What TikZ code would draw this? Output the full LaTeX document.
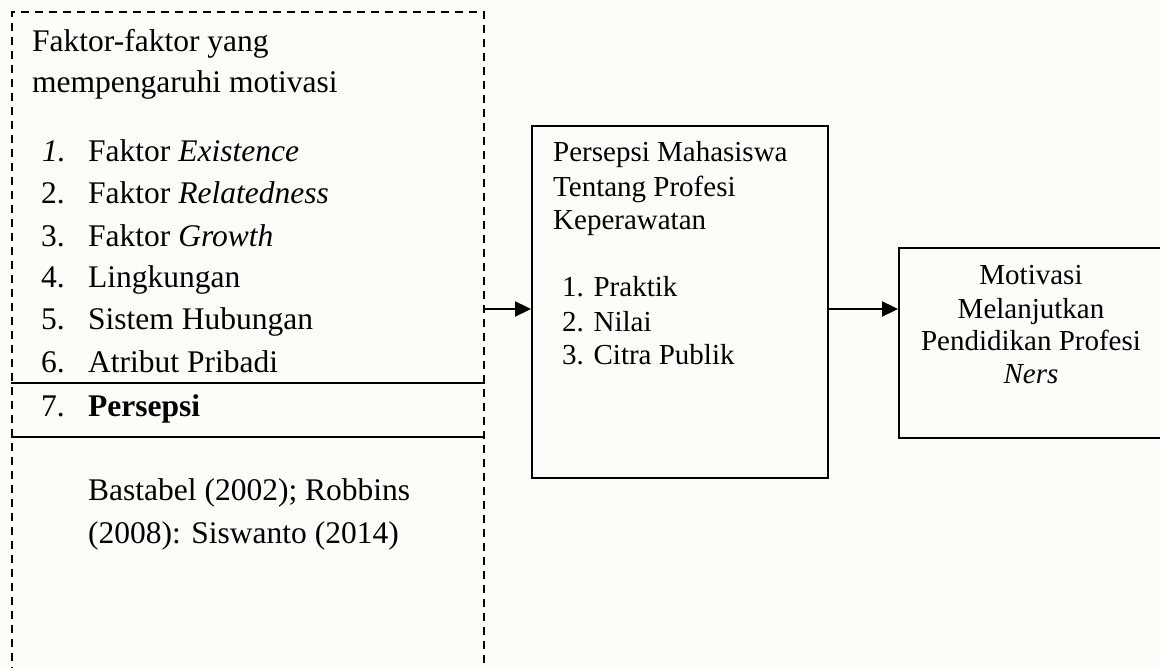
\documentclass[tikz,border=0pt]{standalone}
\usepackage{fontspec}
\setmainfont{Liberation Serif}
\usetikzlibrary{arrows.meta}
\definecolor{bgc}{RGB}{252,253,248}
\begin{document}
\begin{tikzpicture}[x=1pt,y=-1pt,
  dashbox/.style={draw, dash pattern=on 8pt off 6pt, line width=2pt, inner sep=0pt, anchor=north west},
  solidbox/.style={draw, line width=2.3pt, inner sep=0pt, anchor=north west},
  divider/.style={line width=2.3pt},
  lt/.style={inner sep=0pt, anchor=base west, font=\fontsize{31.5}{38}\selectfont},
  mt/.style={inner sep=0pt, anchor=base west, font=\fontsize{29}{34}\selectfont},
  rt/.style={inner sep=0pt, anchor=base, font=\fontsize{29}{34}\selectfont},
  arr/.style={line width=2.3pt, -{Triangle[length=16pt,width=15pt]}}]
\useasboundingbox (0,0) rectangle (1160,668);
\fill[bgc] (0,0) rectangle (1160,668);
\clip (0,0) rectangle (1160,668);

% boxes
\node[dashbox, minimum width=472pt, minimum height=669pt] (fac) at (11,11) {};
\node[solidbox, minimum width=296pt, minimum height=352pt] (mid) at (531,125) {};
\node[solidbox, minimum width=280pt, minimum height=190pt] (mot) at (898,247) {};

% dividers in the left box
\path (0,383) coordinate (d1) (0,437) coordinate (d2);
\draw[divider] (d1 -| fac.west) -- (d1 -| fac.east);
\draw[divider] (d2 -| fac.west) -- (d2 -| fac.east);

% left texts
\node[lt] (t1) at (32,52) {Faktor-faktor yang};
\node[lt] (t2) at (32,93) {mempengaruhi motivasi};
\node[lt] (n1) at (42,162) {\itshape 1.};
\node[lt] (i1) at (88,162) {Faktor \textit{Existence}};
\node[lt] (n2) at (41,204) {2.};
\node[lt] (i2) at (88,204) {Faktor \textit{Relatedness}};
\node[lt] (n3) at (41,247) {3.};
\node[lt] (i3) at (88,247) {Faktor \textit{Growth}};
\node[lt] (n4) at (41,288) {4.};
\node[lt] (i4) at (88,288) {Lingkungan};
\node[lt] (n5) at (41,330) {5.};
\node[lt] (i5) at (88,330) {Sistem Hubungan};
\node[lt] (n6) at (41,373) {6.};
\node[lt] (i6) at (88,373) {Atribut Pribadi};
\node[lt] (n7) at (41,417) {7.};
\node[lt] (i7) at (88,417) {\bfseries Persepsi};
\node[lt] (r1) at (88,500) {Bastabel (2002); Robbins};
\node[lt] (r2) at (88,543) {(2008): Siswanto (2014)};

% middle texts
\node[mt] (m1) at (553,162) {Persepsi Mahasiswa};
\node[mt] (m2) at (553,197) {Tentang Profesi};
\node[mt] (m3) at (553,230) {Keperawatan};
\node[mt] (p1) at (562,297) {1. Praktik};
\node[mt] (p2) at (562,332) {2. Nilai};
\node[mt] (p3) at (562,365) {3. Citra Publik};

% right texts
\node[rt] (o1) at (1031,285) {Motivasi};
\node[rt] (o2) at (1031,319) {Melanjutkan};
\node[rt] (o3) at (1031,351) {Pendidikan Profesi};
\node[rt] (o4) at (1031,384) {\itshape Ners};

% arrows
\path (0,309) coordinate (ay);
\draw[arr] (ay -| fac.east) -- (ay -| mid.west);
\draw[arr] (ay -| mid.east) -- (ay -| mot.west);
\end{tikzpicture}
\end{document}
